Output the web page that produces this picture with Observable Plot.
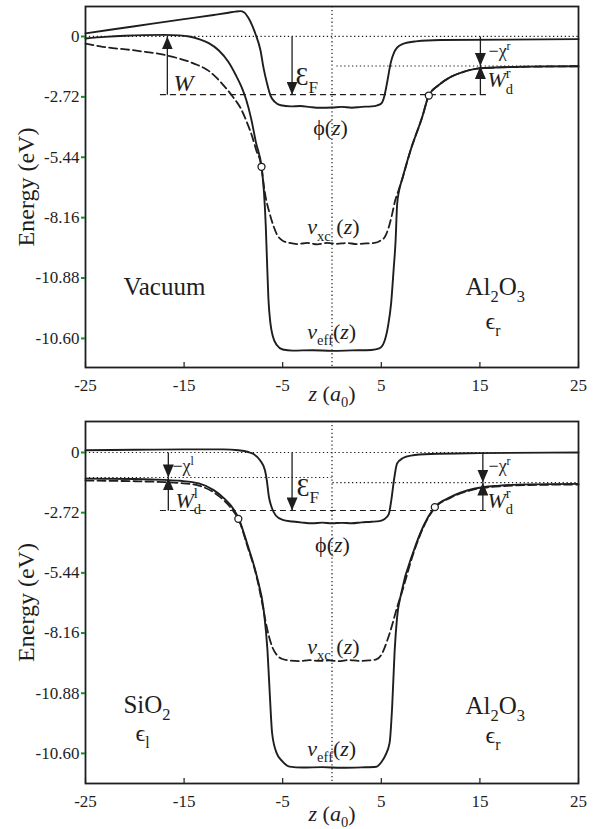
<!DOCTYPE html>
<html><head><meta charset="utf-8">
<script src="https://cdn.jsdelivr.net/npm/d3@7"></script>
<script src="https://cdn.jsdelivr.net/npm/@observablehq/plot@0.6"></script>
<style>
html,body{margin:0;padding:0;background:#fff;}
#chart svg{display:block;font-family:'Liberation Serif','Times New Roman',serif;}
#chart svg text{font-family:'Liberation Serif','Times New Roman',serif;}
</style></head><body><div id="chart"></div>
<script>
// ---------- data ----------
const xTicks = [-25, -15, -5, 5, 15, 25];
const yTicks = [0, -2.72, -5.44, -8.16, -10.88, -13.6];
const yTickLabels = ["0", "-2.72", "-5.44", "-8.16", "-10.88", "-10.60"];

// top panel (vacuum | Al2O3)
const topPhi = [[-25,0.14],[-20,0.46],[-15,0.78],[-12,0.97],[-10.5,1.07],[-9.8,1.12],[-9.3,1.14],[-8.9,1.08],[-8.5,0.85],[-8.1,0.5],[-7.75,0.1],[-7.25,-0.63],[-6.95,-1.4],[-6.6,-2.1],[-6.25,-2.65],[-5.8,-2.95],[-5.2,-3.1],[-4.2,-3.15],[-3.2,-3.13],[-2.2,-3.18],[-1.2,-3.21],[0,-3.2],[1,-3.17],[2,-3.21],[3,-3.17],[4,-3.15],[4.6,-3.1],[5.0,-3.02],[5.3,-2.7],[5.6,-2.05],[5.95,-1.2],[6.3,-0.72],[6.6,-0.5],[7.2,-0.33],[8.5,-0.22],[11,-0.16],[25,-0.12]];
const topVeff = [[-25,-0.09],[-23,-0.02],[-21,0.03],[-19,0.06],[-17,0.07],[-15.5,0.05],[-14.5,0.0],[-13.5,-0.12],[-12.5,-0.3],[-11.5,-0.62],[-10.5,-1.15],[-9.8,-1.7],[-9.2,-2.25],[-8.7,-2.85],[-8.2,-3.7],[-7.7,-4.8],[-7.15,-5.87],[-6.9,-7.0],[-6.72,-8.5],[-6.6,-10.0],[-6.45,-11.8],[-6.25,-12.9],[-6.0,-13.5],[-5.6,-13.9],[-5.0,-14.1],[-4.0,-14.15],[-2,-14.13],[0,-14.16],[2,-14.14],[4,-14.12],[4.8,-14.05],[5.3,-13.75],[5.7,-13.0],[6.0,-12.0],[6.25,-10.5],[6.45,-9.2],[6.6,-7.6],[6.8,-6.95],[7.1,-6.45],[7.96,-5.14],[9.15,-3.63],[9.82,-2.66],[10.8,-2.2],[12,-1.83],[13.3,-1.6],[14.7,-1.45],[17,-1.39],[20,-1.36],[25,-1.34]];
const topVxc = [[-25,-0.32],[-23.5,-0.45],[-20,-0.63],[-16.7,-0.86],[-14,-1.22],[-12.5,-1.55],[-11,-2.2],[-10,-2.75],[-9.3,-3.2],[-8.6,-3.9],[-8.1,-4.5],[-7.7,-5.1],[-7.15,-5.87],[-6.95,-6.6],[-6.7,-7.3],[-6.4,-7.85],[-6.0,-8.45],[-5.6,-8.9],[-5.0,-9.2],[-4.3,-9.3],[-3.5,-9.35],[-2.5,-9.3],[-1.5,-9.36],[-0.5,-9.3],[0.5,-9.34],[1.5,-9.3],[2.5,-9.35],[3.5,-9.32],[4.3,-9.3],[4.9,-9.2],[5.4,-9.0],[5.75,-8.6],[6.1,-8.0],[6.4,-7.4],[6.7,-7.0],[7.0,-6.6],[7.4,-6.0],[7.96,-5.14],[9.15,-3.63],[9.82,-2.66],[10.8,-2.2],[12,-1.83],[13.3,-1.6],[14.7,-1.45],[17,-1.39],[20,-1.36],[25,-1.34]];
const topCircles = [[-7.15,-5.87],[9.82,-2.66]];

// bottom panel (SiO2 | Al2O3)
const botPhi = [[-25,0.1],[-20,0.12],[-15,0.14],[-11,0.14],[-9.5,0.1],[-8.5,0.02],[-8,-0.06],[-7.3,-0.35],[-6.8,-0.8],[-6.6,-1.3],[-6.4,-2.0],[-6.1,-2.5],[-5.7,-2.85],[-5.0,-3.05],[-4,-3.12],[-3,-3.17],[-2,-3.2],[-1,-3.17],[0,-3.2],[1,-3.18],[2,-3.2],[3,-3.16],[4,-3.13],[4.8,-3.1],[5.3,-3.02],[5.75,-2.8],[6.0,-2.2],[6.3,-1.2],[6.6,-0.5],[7.2,-0.25],[8,-0.14],[10,-0.07],[15,-0.03],[25,0]];
const botVeff = [[-25,-1.18],[-20,-1.2],[-17,-1.24],[-15.4,-1.28],[-13.5,-1.4],[-12,-1.7],[-11,-2.05],[-10,-2.55],[-9.45,-3.0],[-8.6,-4.13],[-7.6,-5.64],[-6.92,-7.15],[-6.55,-8.9],[-6.3,-11.0],[-6.07,-12.7],[-5.6,-13.6],[-5.05,-13.95],[-4.3,-14.2],[-3,-14.24],[-1,-14.22],[1,-14.25],[3,-14.23],[4.5,-14.2],[5.0,-14.0],[5.4,-13.7],[5.85,-13.1],[6.1,-11.5],[6.35,-9.0],[6.6,-7.45],[7.0,-6.4],[8.3,-4.43],[9.3,-3.3],[10.43,-2.47],[12,-2.02],[14.4,-1.64],[17,-1.5],[20,-1.44],[25,-1.42]];
const botVxc = [[-25,-1.27],[-20,-1.3],[-17,-1.34],[-15.4,-1.38],[-13.5,-1.5],[-12,-1.8],[-11,-2.15],[-10,-2.65],[-9.45,-3.05],[-8.6,-4.2],[-7.6,-5.7],[-7.0,-7.0],[-6.75,-7.6],[-6.4,-8.3],[-6.05,-8.8],[-5.6,-9.15],[-5.1,-9.32],[-4.3,-9.4],[-3.3,-9.43],[-2.3,-9.38],[-1.3,-9.42],[-0.3,-9.4],[0.7,-9.43],[1.7,-9.38],[2.7,-9.42],[3.7,-9.4],[4.5,-9.35],[5.0,-9.15],[5.6,-8.5],[6.1,-7.8],[6.6,-7.0],[7.0,-6.45],[8.3,-4.5],[9.3,-3.35],[10.43,-2.5],[12,-2.05],[14.4,-1.67],[17,-1.53],[20,-1.47],[25,-1.45]];
const botCircles = [[-9.5,-3.0],[10.43,-2.47]];

// energy levels
const fermiLevel = -2.62;
const topChiR = -1.33;
const botChiL = -1.13;
const botChiR = -1.36;

// ---------- styling ----------
const INK = "#1e1e1e";
const FONT = "Liberation Serif";
const NS = "http://www.w3.org/2000/svg";

function arrowHead(color, context) {
  const doc = (context && context.document) || document;
  const m = doc.createElementNS(NS, "marker");
  m.setAttribute("viewBox", "-13 -5.5 13 11");
  m.setAttribute("markerWidth", 13);
  m.setAttribute("markerHeight", 11);
  m.setAttribute("markerUnits", "userSpaceOnUse");
  m.setAttribute("orient", "auto");
  m.setAttribute("refX", 0);
  m.setAttribute("refY", 0);
  const p = doc.createElementNS(NS, "path");
  p.setAttribute("d", "M0,0L-13,-5.5L-13,5.5Z");
  p.setAttribute("fill", color);
  p.setAttribute("stroke", "none");
  m.appendChild(p);
  return m;
}

const panels = [
  {
    height: 410, marginTop: 6, marginBottom: 43, yDomain: [-14.91, 1.35], xLabelDy: 26,
    phi: topPhi, veff: topVeff, vxc: topVxc, circles: topCircles,
    dotted: [{v: 0, z1: -25, z2: 25}, {v: topChiR, z1: 0.5, z2: 25}],
    dashed: [{v: fermiLevel, z1: -17.4, z2: 15.9}],
    arrows: [
      {z: -16.7, from: fermiLevel, to: 0},
      {z: -4.05, from: 0, to: fermiLevel},
      {z: 15.05, from: 0, to: topChiR},
      {z: 15.05, from: fermiLevel, to: topChiR}
    ],
    labels: [
      {t: "*W*", z: -16.08, v: -2.12, s: 24},
      {t: "Ɛ_{F}", z: -3.7, v: -1.83, s: 26},
      {t: "*v*_{xc} (*z*)", z: -2.5, v: -8.6, s: 22},
      {t: "*v*_{eff}(*z*)", z: -2.5, v: -13.29, s: 22},
      {t: "Vacuum", z: -21.15, v: -11.3, s: 25},
      {t: "Al_{2}O_{3}", z: 13.54, v: -11.3, s: 25},
      {t: "ϵ_{r}", z: 15.57, v: -12.85, s: 24},
      {t: "−χ^{r}", z: 15.87, v: -0.68, s: 18},
      {t: "*W*_{d}~{r}", z: 15.77, v: -1.98, s: 22}
    ],
    centered: [{t: "ϕ(*z*)", z: -0.15, v: -4.14, s: 22}]
  },
  {
    height: 419, marginTop: 11, marginBottom: 46, yDomain: [-14.96, 1.40], xLabelDy: 30,
    phi: botPhi, veff: botVeff, vxc: botVxc, circles: botCircles,
    dotted: [{v: 0, z1: -25, z2: 25}, {v: botChiL, z1: -25, z2: 0}, {v: botChiR, z1: 0.1, z2: 25}],
    dashed: [{v: fermiLevel, z1: -17.4, z2: 16.1}],
    arrows: [
      {z: -16.6, from: 0, to: botChiL},
      {z: -16.6, from: fermiLevel, to: botChiL},
      {z: -4.05, from: 0, to: fermiLevel},
      {z: 15.3, from: 0, to: botChiR},
      {z: 15.3, from: fermiLevel, to: botChiR}
    ],
    labels: [
      {t: "−χ^{l}", z: -16.18, v: -0.63, s: 18},
      {t: "*W*_{d}~{l}", z: -15.87, v: -2.17, s: 22},
      {t: "Ɛ_{F}", z: -3.6, v: -1.58, s: 26},
      {t: "*v*_{xc} (*z*)", z: -2.5, v: -8.77, s: 22},
      {t: "*v*_{eff}(*z*)", z: -2.5, v: -13.38, s: 22},
      {t: "SiO_{2}", z: -21.15, v: -11.39, s: 25},
      {t: "ϵ_{l}", z: -19.93, v: -12.7, s: 24},
      {t: "Al_{2}O_{3}", z: 13.54, v: -11.45, s: 25},
      {t: "ϵ_{r}", z: 15.57, v: -12.8, s: 24},
      {t: "−χ^{r}", z: 15.87, v: -0.63, s: 18},
      {t: "*W*_{d}~{r}", z: 15.77, v: -2.17, s: 22}
    ],
    centered: [{t: "ϕ(*z*)", z: 0.05, v: -4.2, s: 22}]
  }
];

const yLabelOf = new Map(yTicks.map((d, i) => [d, yTickLabels[i]]));
const dottedStyle = {stroke: INK, strokeWidth: 1.2, strokeDasharray: "1.3,2.6"};

function panelPlot(p) {
  const rows = [];
  for (const [name, pts] of [["phi", p.phi], ["veff", p.veff]]) for (const [z, v] of pts) rows.push({series: name, z, v});
  const vxcRows = p.vxc.map(([z, v]) => ({z, v}));
  const frameH = p.height - p.marginTop - p.marginBottom;
  return Plot.plot({
    width: 598, height: p.height,
    marginLeft: 85, marginRight: 20, marginTop: p.marginTop, marginBottom: p.marginBottom,
    x: {domain: [-25, 25]},
    y: {domain: p.yDomain},
    style: {fontFamily: FONT, fontSize: "17px", color: INK, background: "white", overflow: "visible"},
    marks: [
      Plot.ruleX([0], dottedStyle),
      Plot.ruleY(p.dotted, {y: "v", x1: "z1", x2: "z2", ...dottedStyle}),
      Plot.ruleY(p.dashed, {y: "v", x1: "z1", x2: "z2", stroke: INK, strokeWidth: 1.1, strokeDasharray: "6,4"}),
      Plot.line(rows, {x: "z", y: "v", z: "series", stroke: INK, strokeWidth: 1.9, curve: "monotone-x"}),
      Plot.line(vxcRows, {x: "z", y: "v", stroke: INK, strokeWidth: 1.8, strokeDasharray: "8,4", curve: "monotone-x"}),
      Plot.link(p.arrows, {x1: "z", x2: "z", y1: "from", y2: "to", stroke: INK, strokeWidth: 1.3, markerEnd: arrowHead}),
      Plot.dot(p.circles, {x: d => d[0], y: d => d[1], r: 3.5, fill: "white", stroke: INK, strokeWidth: 1.3}),
      Plot.text(p.labels, {x: "z", y: "v", text: "t", fontSize: "s", fontFamily: FONT, textAnchor: "start", lineAnchor: "middle", fill: INK}),
      Plot.text(p.centered, {x: "z", y: "v", text: "t", fontSize: "s", fontFamily: FONT, textAnchor: "middle", lineAnchor: "middle", fill: INK}),
      Plot.frame({stroke: INK, strokeWidth: 1.8}),
      Plot.tickX(xTicks, {x: d => d, insetTop: frameH - 5, stroke: INK, strokeWidth: 1.2}),
      Plot.axisX({ticks: xTicks, tickSize: 0, tickPadding: 11, tickFormat: d => String(d), label: null, fontSize: 17, fontFamily: FONT}),
      Plot.axisY({ticks: yTicks, tickSize: 4, stroke: "#1a8f1a", strokeWidth: 2, fill: "none", tickFormat: () => "", label: null}),
      Plot.axisY({ticks: yTicks, tickSize: 0, tickPadding: 6, tickFormat: d => yLabelOf.get(d), label: null, fontSize: 17, fontFamily: FONT}),
      Plot.text(["Energy (eV)"], {text: d => d, frameAnchor: "left", rotate: -90, dx: -59, fontSize: 24, fontFamily: FONT, textAnchor: "middle", lineAnchor: "middle", fill: INK}),
      Plot.text(["*z* (*a*_{0})"], {text: d => d, frameAnchor: "bottom", dy: p.xLabelDy, fontSize: 22, fontFamily: FONT, textAnchor: "middle", lineAnchor: "middle", fill: INK})
    ]
  });
}

// rich text: *italic*, _{sub}, ^{sup}, ~{sup stacked over previous sub}
function parseRich(s) {
  const segs = []; let italic = false, buf = "", i = 0;
  const flush = () => { if (buf) segs.push({text: buf, italic, mode: "n"}); buf = ""; };
  while (i < s.length) {
    const c = s[i];
    if (c === "*") { flush(); italic = !italic; i++; }
    else if ((c === "_" || c === "^" || c === "~") && s[i + 1] === "{") {
      flush();
      const j = s.indexOf("}", i);
      segs.push({text: s.slice(i + 2, j), italic: false, mode: c === "_" ? "sub" : c === "^" ? "sup" : "stack"});
      i = j + 1;
    } else { buf += c; i++; }
  }
  flush();
  return segs;
}
function richify(svg) {
  svg.querySelectorAll("text").forEach(t => {
    const s = t.textContent;
    if (!/[*_^~]/.test(s) || t.querySelector("tspan")) return;
    const fs = parseFloat(getComputedStyle(t).fontSize) || 16;
    const segs = parseRich(s);
    t.textContent = "";
    let shift = 0, prev = null;
    for (const seg of segs) {
      const ts = document.createElementNS(NS, "tspan");
      let target = 0, size = null;
      if (seg.mode === "sub") { target = 0.28 * fs; size = 0.66 * fs; }
      else if (seg.mode === "sup" || seg.mode === "stack") { target = -0.42 * fs; size = 0.66 * fs; }
      if (target !== shift) { ts.setAttribute("dy", (target - shift).toFixed(2)); shift = target; }
      if (size) ts.setAttribute("font-size", size.toFixed(2));
      if (seg.italic) ts.setAttribute("font-style", "italic");
      ts.textContent = seg.text;
      t.appendChild(ts);
      if (seg.mode === "stack" && prev) {
        ts.setAttribute("dx", (-prev.getComputedTextLength()).toFixed(2));
      }
      prev = ts;
    }
  });
}

const root = document.getElementById("chart");
for (const p of panels) {
  const svg = panelPlot(p);
  root.appendChild(svg);
  richify(svg);
}
</script>
</body></html>
